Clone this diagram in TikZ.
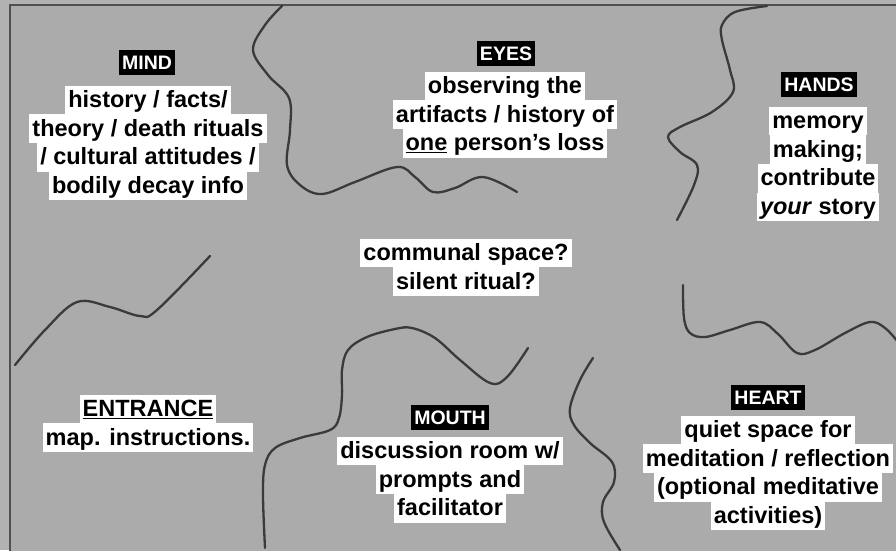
\documentclass[tikz,border=0pt]{standalone}
\usepackage{fontspec}
\setmainfont{Liberation Sans}
\definecolor{bggray}{HTML}{ABABAB}
\definecolor{outgray}{HTML}{B2B2B2}
\definecolor{framegray}{HTML}{505050}
\definecolor{curvegray}{HTML}{3A3A3A}
\tikzset{
  lbl/.style={fill=black, text=white, font=\fontsize{19.5}{21}\selectfont\bfseries,
    inner xsep=3pt, inner ysep=5.5pt, text height=14pt, text depth=0pt},
  txt/.style={fill=white, text=black, font=\fontsize{23.5}{28}\selectfont\bfseries,
    inner xsep=3pt, inner ysep=1.85pt, text height=20pt, text depth=5pt},
  wall/.style={draw=curvegray, line width=2.3pt, line cap=round, line join=round}
}
\begin{document}
\begin{tikzpicture}[x=1pt, y=-1pt]
\useasboundingbox (0,0) rectangle (896,550);
\clip (0,0) rectangle (896,550);
\fill[outgray] (0,0) rectangle (896,550);
\fill[bggray] (10,5) rectangle (900,556);
\draw[framegray, line width=2.5pt] (10,556) -- (10,5) -- (900,5);

% walls
\draw[wall] plot[smooth, tension=0.6] coordinates {(282,6) (265,25) (253,50) (268,75) (289,98) (290,130) (287,165) (300,185) (322,194) (355,182) (397,167) (415,177) (433,192) (455,188) (483,177) (517,192)};
\draw[wall] plot[smooth, tension=0.6] coordinates {(767,6) (735,12) (722,25) (722,40) (730,70) (733,92) (712,112) (680,127) (668,137) (680,152) (697,165) (694,185) (677,220)};
\draw[wall] plot[smooth, tension=0.6] coordinates {(15,365) (45,330) (77,302) (110,307) (140,316) (157,310) (210,256)};
\draw[wall] plot[smooth, tension=0.6] coordinates {(265,548) (263,495) (265,465) (275,448) (300,438) (330,430) (339,418) (342,395) (342,370) (348,350) (367,337) (395,329) (412,328) (435,338) (460,360) (490,383) (507,377) (528,348)};
\draw[wall] plot[smooth, tension=0.6] coordinates {(593,358) (580,380) (570,408) (574,425) (590,443) (612,462) (614,482) (603,502) (604,522) (620,550)};
\draw[wall] plot[smooth, tension=0.6] coordinates {(683,285) (684,318) (690,333) (705,337) (730,330) (760,322) (778,334) (797,353) (815,350) (845,333) (870,322) (885,328) (898,342)};

% MIND
\node[lbl] (mind) at (147,62) {MIND};
\node[txt] (mind1) at (148,100) {history / facts/};
\node[txt] (mind2) at (148,128.7) {theory / death rituals};
\node[txt] (mind3) at (148,157.4) {/ cultural attitudes /};
\node[txt] (mind4) at (148,186.1) {bodily decay info};

% EYES
\node[lbl] (eyes) at (506,53) {EYES};
\node[txt] (eyes1) at (505,86) {observing the};
\node[txt] (eyes2) at (505,114.7) {artifacts / history of};
\node[txt] (eyes3) at (505,143.4) {\underline{one} person’s loss};

% HANDS
\node[lbl] (hands) at (819,84) {HANDS};
\node[txt] (hands1) at (818,121) {memory};
\node[txt] (hands2) at (818,149.7) {making;};
\node[txt] (hands3) at (818,178.4) {contribute};
\node[txt] (hands4) at (818,207.1) {\textit{your} story};

% centre
\node[txt] (c1) at (466,253) {communal space?};
\node[txt] (c2) at (466,281.7) {silent ritual?};

% ENTRANCE
\node[txt] (ent1) at (148,409) {\underline{ENTRANCE}};
\node[txt] (ent2) at (148,437.7) {map. instructions.};

% MOUTH
\node[lbl] (mouth) at (450,417) {MOUTH};
\node[txt] (mouth1) at (450,451) {discussion room w/};
\node[txt] (mouth2) at (450,479.7) {prompts and};
\node[txt] (mouth3) at (450,508.4) {facilitator};

% HEART
\node[lbl] (heart) at (768,397) {HEART};
\node[txt] (heart1) at (768,430) {quiet space for};
\node[txt] (heart2) at (768,458.7) {meditation / reflection};
\node[txt] (heart3) at (768,487.4) {(optional meditative};
\node[txt] (heart4) at (768,516.1) {activities)};
\end{tikzpicture}
\end{document}
